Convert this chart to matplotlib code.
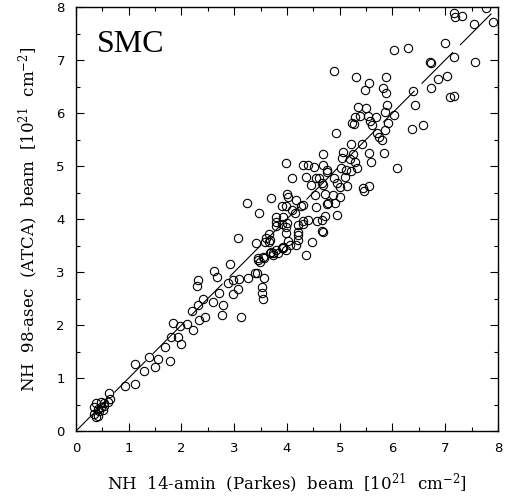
import numpy as np
import matplotlib
matplotlib.use("Agg")
import matplotlib.pyplot as plt
from matplotlib.ticker import MultipleLocator

# NH columns, in units of 1e21 cm^-2
# parkes = x (14-amin beam), atca = y (98-asec beam)
parkes = [
    0.38, 0.47, 0.54, 0.60, 0.35, 0.41, 0.47, 0.54, 0.44, 0.35, 0.41, 0.51, 0.38,
    0.63, 0.65, 0.93, 1.11, 1.12, 1.29, 1.39, 1.50, 1.55, 1.69, 1.78, 1.80, 1.93,
    1.99, 1.83, 1.97, 2.10, 2.22,
    2.19, 2.33, 2.44, 2.32, 2.40, 2.60, 2.78, 2.76, 3.13, 2.72, 2.98, 3.08, 2.29,
    2.32, 2.62, 2.68, 2.89, 2.98, 3.09, 3.27, 3.44, 3.40, 3.57, 3.52, 3.52, 3.54,
    2.92, 3.41, 3.65, 3.45, 3.49, 3.57, 3.68, 3.73, 3.83, 3.92, 3.99, 3.08,
    4.10, 4.37, 4.61, 4.76, 4.89, 5.10, 4.45, 4.69, 5.00, 5.14, 4.53, 4.72, 4.88,
    5.00, 4.78, 4.91, 4.01, 4.02, 3.69, 3.24, 3.90, 3.98, 4.18, 4.09, 4.26, 4.55,
    3.47, 3.79, 3.93, 4.15, 4.72, 4.94, 3.80, 3.90, 4.01, 4.30, 4.40, 4.56, 4.66,
    3.79, 3.99, 4.20, 4.31, 3.99, 4.21, 3.65, 4.66, 4.69, 4.21, 3.61, 3.68, 4.02,
    4.21, 4.47, 3.58, 3.93, 4.06, 4.18, 3.80, 3.90, 3.69, 3.74, 3.55, 3.46, 4.37,
    3.99,
    5.35, 5.50, 5.89, 5.86, 6.02, 5.29, 5.38, 5.54, 5.69, 5.57, 5.23, 5.27, 5.62,
    5.92, 4.93, 5.86, 5.70, 5.75, 5.80, 5.21, 5.43, 5.07, 5.25, 5.56, 5.84, 4.68,
    5.04, 5.19, 5.29, 5.59, 4.30, 4.40, 4.51, 4.69, 4.75, 5.02, 5.12, 5.21, 5.33,
    6.08, 4.55, 4.66, 4.94, 5.45, 5.56, 5.47, 4.31, 4.75,
    7.17, 7.18, 7.31, 7.77, 7.55, 7.90, 6.03, 6.30, 7.00, 6.72, 6.74, 7.17, 7.56,
    5.88, 6.87, 7.03, 6.74, 5.83, 5.88, 6.39, 7.10, 7.17, 6.43, 4.90, 5.31, 5.56,
    5.48, 6.38, 6.58,
]
atca = [
    0.52, 0.55, 0.53, 0.55, 0.45, 0.41, 0.45, 0.47, 0.37, 0.32, 0.28, 0.40, 0.26,
    0.72, 0.60, 0.84, 0.89, 1.26, 1.14, 1.40, 1.21, 1.36, 1.58, 1.33, 1.77, 1.77,
    1.64, 2.04, 1.98, 2.01, 1.91,
    2.27, 2.09, 2.16, 2.38, 2.50, 2.43, 2.38, 2.19, 2.16, 2.61, 2.58, 2.67, 2.74,
    2.84, 3.01, 2.91, 2.80, 2.84, 2.86, 2.88, 2.98, 2.98, 2.88, 2.72, 2.60, 2.50,
    3.16, 3.54, 3.57, 3.26, 3.19, 3.26, 3.36, 3.32, 3.36, 3.45, 3.42, 3.65,
    4.77, 4.79, 4.77, 4.89, 4.77, 4.80, 4.64, 4.64, 4.61, 4.62, 4.45, 4.47, 4.45,
    4.42, 4.30, 4.30, 4.47, 4.41, 4.39, 4.30, 4.25, 4.25, 4.35, 4.17, 4.25, 4.22,
    4.12, 4.04, 4.03, 4.11, 4.06, 4.08, 3.95, 3.91, 3.92, 3.97, 3.99, 3.97, 3.98,
    3.87, 3.84, 3.89, 3.91, 3.74, 3.76, 3.72, 3.78, 3.76, 3.70, 3.64, 3.60, 3.59,
    3.60, 3.57, 3.57, 3.48, 3.51, 3.51, 3.42, 3.45, 3.38, 3.35, 3.28, 3.23, 3.32,
    5.05,
    6.11, 6.09, 6.15, 6.02, 5.96, 5.93, 5.94, 5.94, 5.92, 5.85, 5.81, 5.79, 5.77,
    5.81, 5.63, 5.68, 5.62, 5.54, 5.50, 5.42, 5.42, 5.27, 5.23, 5.25, 5.24, 5.23,
    5.16, 5.13, 5.08, 5.08, 5.02, 5.02, 4.98, 5.02, 4.92, 4.96, 4.92, 4.91, 4.96,
    4.96, 4.77, 4.67, 4.67, 4.58, 4.62, 4.52, 4.26, 4.28,
    7.89, 7.81, 7.83, 7.99, 7.68, 7.72, 7.18, 7.22, 7.33, 6.97, 6.94, 7.06, 6.97,
    6.67, 6.65, 6.70, 6.48, 6.47, 6.38, 6.42, 6.30, 6.32, 6.15, 6.80, 6.67, 6.56,
    6.43, 5.69, 5.77,
]

plt.rcParams["mathtext.fontset"] = "dejavuserif"

fig = plt.figure(figsize=(5.05, 5.0), dpi=100)
ax = fig.add_axes([0.1505, 0.138, 0.8355, 0.848])

ax.plot(parkes, atca, "o", ms=6, mfc="none", mec="black", mew=0.8, ls="none")

# one-to-one line
line = np.array([0, 8])
ax.plot(line, line, color="black", lw=0.8, dashes=(40, 9))

ax.set_xlim(0, 8)
ax.set_ylim(0, 8)
ax.xaxis.set_major_locator(MultipleLocator(1))
ax.xaxis.set_minor_locator(MultipleLocator(0.5))
ax.yaxis.set_major_locator(MultipleLocator(1))
ax.yaxis.set_minor_locator(MultipleLocator(0.5))
ax.tick_params(which="both", direction="in", top=True, right=True, width=0.8)
ax.tick_params(which="major", length=6, pad=8, labelsize=9.5)
ax.tick_params(which="minor", length=3)
for s in ax.spines.values():
    s.set_linewidth(1.0)

ax.set_xlabel(r"NH  14-amin  (Parkes)  beam  [10$^{21}$  cm$^{-2}$]",
              family="DejaVu Serif", fontsize=12, labelpad=12)
ax.set_ylabel(r"NH  98-asec  (ATCA)  beam  [10$^{21}$  cm$^{-2}$]",
              family="DejaVu Serif", fontsize=12, labelpad=12)

ax.text(0.049, 0.895, "SMC", transform=ax.transAxes,
        family="Liberation Serif", fontsize=23)

fig.savefig("out.png", dpi=100)
